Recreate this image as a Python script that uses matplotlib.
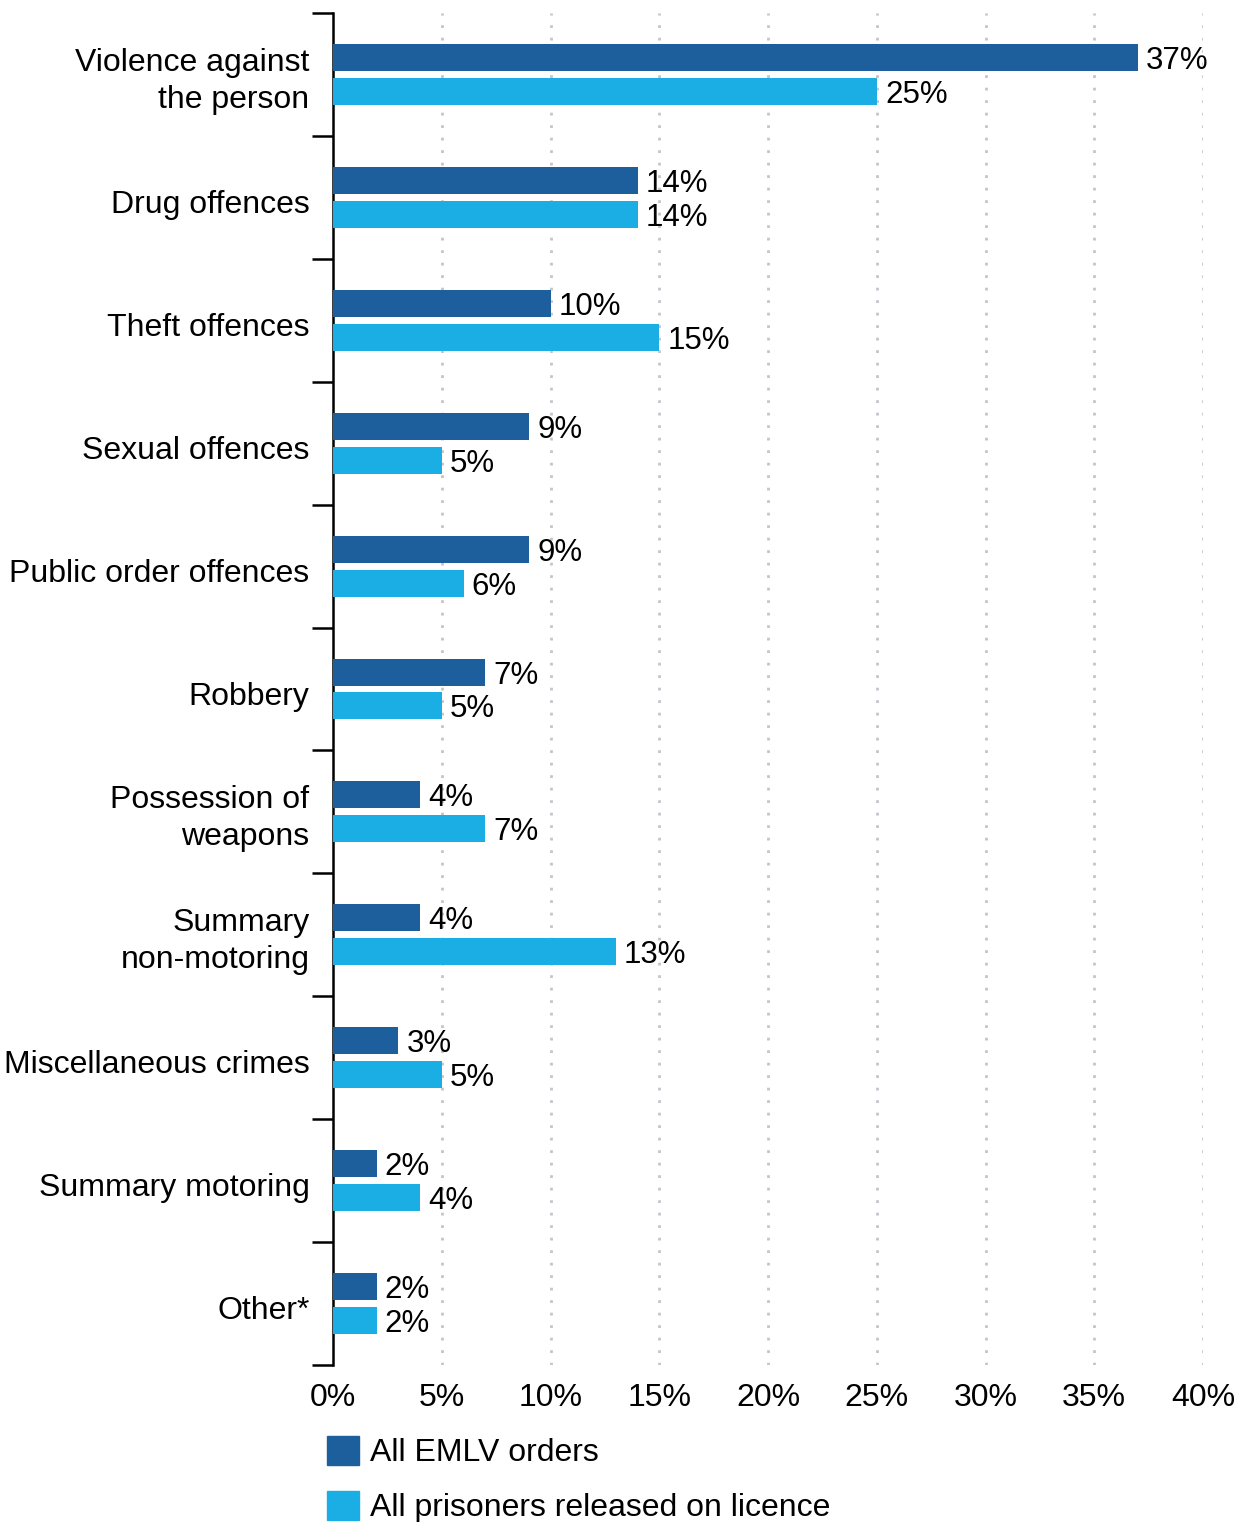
import matplotlib.pyplot as plt
import numpy as np
from matplotlib.patches import Patch
from matplotlib.ticker import FixedLocator, PercentFormatter
from matplotlib.transforms import ScaledTranslation

plt.rcParams['font.family'] = ['Liberation Sans', 'DejaVu Sans']

categories = ["Violence against\nthe person", "Drug offences", "Theft offences",
              "Sexual offences", "Public order offences", "Robbery",
              "Possession of\nweapons", "Summary\nnon-motoring",
              "Miscellaneous crimes", "Summary motoring", "Other*"]
emlv = [37, 14, 10, 9, 9, 7, 4, 4, 3, 2, 2]
licence = [25, 14, 15, 5, 6, 5, 7, 13, 5, 4, 2]
series_names = ["All EMLV orders", "All prisoners released on licence"]

dark = "#1D5F9C"
light = "#1AAEE5"
fs = 23

fig = plt.figure(figsize=(12.47, 15.22), dpi=100)
ax = fig.add_axes([333 / 1247, 1 - 1365 / 1522, (1203 - 333) / 1247, (1365 - 13) / 1522])

y = np.arange(len(categories))
h = 0.22
off = 0.138
b1 = ax.barh(y - off, emlv, height=h, color=dark, zorder=3)
b2 = ax.barh(y + off, licence, height=h, color=light, zorder=3)

for bars, vals in ((b1, emlv), (b2, licence)):
    for rect, v in zip(bars, vals):
        ax.annotate(f"{v}%", (rect.get_width(), rect.get_y() + rect.get_height() / 2),
                    xytext=(6, 0), textcoords="offset points", va="center_baseline",
                    ha="left", fontsize=22.5, zorder=4)

ax.set_xlim(0, 40)
ax.set_ylim(len(categories) - 0.5, -0.5)

# x axis: ticks labels only, dotted grid
ax.set_xticks(np.arange(0, 41, 5))
ax.xaxis.set_major_formatter(PercentFormatter(decimals=0))
ax.tick_params(axis="x", length=0, pad=13, labelsize=fs)
for xv in np.arange(5, 41, 5):
    ax.axvline(xv, color="#c4c4cc", linestyle=(0, (1, 3.5)), linewidth=2, zorder=1)

# y axis: labels at centres, ticks at category boundaries
ax.set_yticks(y)
ax.set_yticklabels(categories, fontsize=fs, linespacing=1.3)
ax.yaxis.set_minor_locator(FixedLocator(np.arange(-0.5, len(categories), 1)))
ax.tick_params(axis="y", which="major", length=0, pad=17)
ax.tick_params(axis="y", which="minor", length=15, width=1.8, color="black")

# single-line labels sit a little lower in the original
shift = ScaledTranslation(0, -4 / 100, fig.dpi_scale_trans)
for tick in ax.yaxis.get_major_ticks():
    if "\n" not in tick.label1.get_text():
        tick.label1.set_transform(tick.label1.get_transform() + shift)

for s in ("top", "right", "bottom"):
    ax.spines[s].set_visible(False)
ax.spines["left"].set_linewidth(1.8)

handles = [Patch(color=dark), Patch(color=light)]
fig.legend(handles, series_names, loc="upper left",
           bbox_to_anchor=(327 / 1247, 1 - 1436 / 1522), frameon=False, fontsize=fs,
           handlelength=1.0, handleheight=1.0, handletextpad=0.35, labelspacing=0.72,
           borderpad=0, borderaxespad=0)

fig.savefig("out.png", dpi=100)
